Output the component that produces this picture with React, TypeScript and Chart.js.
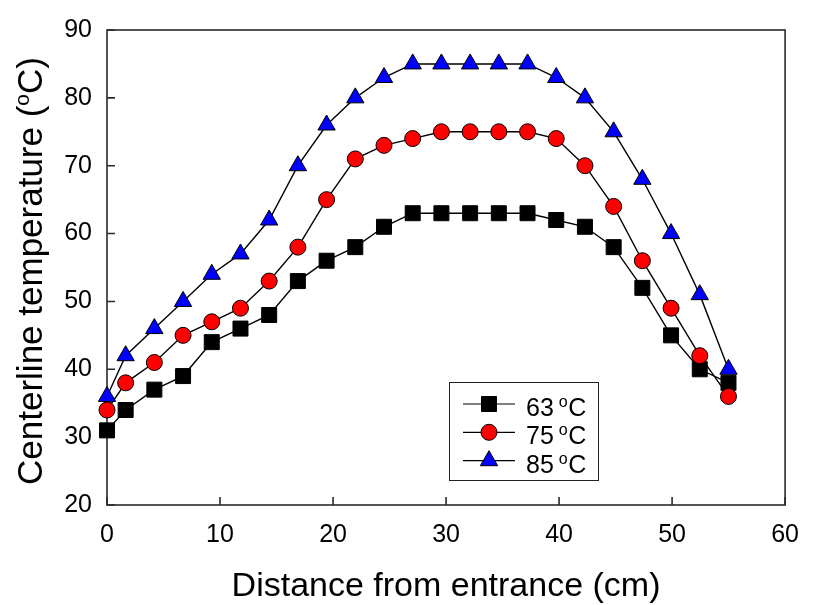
import React, { useEffect, useRef } from "react";
import { Chart, registerables } from "chart.js";

Chart.register(...registerables);

// Distance from entrance (cm)
const distance = [0, 1.65, 4.19, 6.73, 9.27, 11.81, 14.35, 16.89, 19.43, 21.97, 24.51, 27.05, 29.59, 32.13, 34.67, 37.21, 39.75, 42.29, 44.83, 47.37, 49.91, 52.45, 54.99];
// Centerline temperature (oC) for each setpoint
const temp63 = [31, 34, 37, 39, 44, 46, 48, 53, 56, 58, 61, 63, 63, 63, 63, 63, 62, 61, 58, 52, 45, 40, 38];
const temp75 = [34, 38, 41, 45, 47, 49, 53, 58, 65, 71, 73, 74, 75, 75, 75, 75, 74, 70, 64, 56, 49, 42, 36];
const temp85 = [36, 42, 46, 50, 54, 57, 62, 70, 76, 80, 83, 85, 85, 85, 85, 85, 83, 80, 75, 68, 60, 51, 40];
const seriesNames = ["63", "75", "85"];
const xTickValues = [0, 10, 20, 30, 40, 50, 60];
const yTickValues = [20, 30, 40, 50, 60, 70, 80, 90];

const FONT = "'Liberation Sans', Arial, sans-serif";

const markerStyles = [
  { shape: "rect", fill: "#000000" },
  { shape: "circle", fill: "#ff0000" },
  { shape: "triangle", fill: "#0000ff" },
];

function drawMarker(ctx: CanvasRenderingContext2D, shape: string, fill: string, x: number, y: number) {
  ctx.save();
  ctx.fillStyle = fill;
  ctx.strokeStyle = "#000";
  ctx.lineWidth = 1;
  ctx.beginPath();
  if (shape === "rect") {
    ctx.rect(x - 7.5, y - 7.5, 15, 15);
  } else if (shape === "circle") {
    ctx.arc(x, y, 8, 0, Math.PI * 2);
  } else {
    const r = 10;
    ctx.moveTo(x, y - r);
    ctx.lineTo(x + r * 0.866, y + r / 2);
    ctx.lineTo(x - r * 0.866, y + r / 2);
    ctx.closePath();
  }
  ctx.fill();
  ctx.stroke();
  ctx.restore();
}

const decorPlugin = {
  id: "decor",
  beforeDatasetsDraw(chart: any) {
    const { ctx, chartArea } = chart;
    const { left, right, top, bottom } = chartArea;
    const xs = chart.scales.x;
    const ys = chart.scales.y;
    ctx.save();
    ctx.strokeStyle = "#2a2a2a";
    ctx.lineWidth = 1.6;
    ctx.strokeRect(left, top, right - left, bottom - top);
    ctx.beginPath();
    xTickValues.forEach((v) => {
      const px = xs.getPixelForValue(v);
      ctx.moveTo(px, bottom);
      ctx.lineTo(px, bottom - 8);
    });
    yTickValues.forEach((v) => {
      const py = ys.getPixelForValue(v);
      ctx.moveTo(left, py);
      ctx.lineTo(left + 8, py);
    });
    ctx.stroke();
    ctx.restore();
  },
  afterDraw(chart: any) {
    const { ctx, chartArea } = chart;
    const { left, right } = chartArea;
    ctx.save();
    ctx.fillStyle = "#000";
    ctx.textBaseline = "alphabetic";

    // X axis title
    ctx.font = `34px ${FONT}`;
    ctx.textAlign = "center";
    ctx.fillText("Distance from entrance (cm)", (left + right) / 2, 596);

    // Y axis title with superscript
    ctx.textAlign = "left";
    const big = `35px ${FONT}`;
    const small = `21px ${FONT}`;
    const p1 = "Centerline temperature (";
    const p2 = "o";
    const p3 = "C)";
    ctx.font = big;
    const w1 = ctx.measureText(p1).width;
    const w3 = ctx.measureText(p3).width;
    ctx.font = small;
    const w2 = ctx.measureText(p2).width;
    const total = w1 + w2 + w3;
    ctx.translate(42, 271);
    ctx.rotate(-Math.PI / 2);
    let cx = -total / 2;
    ctx.font = big;
    ctx.fillText(p1, cx, 0);
    cx += w1;
    ctx.font = small;
    ctx.fillText(p2, cx, -13);
    cx += w2;
    ctx.font = big;
    ctx.fillText(p3, cx, 0);
    ctx.setTransform(1, 0, 0, 1, 0, 0);
    ctx.restore();

    // Legend
    ctx.save();
    ctx.strokeStyle = "#222";
    ctx.lineWidth = 1;
    ctx.strokeRect(449.5, 382.5, 149, 98);
    const rows = [404, 432.3, 460.7];
    seriesNames.forEach((name, i) => {
      const ry = rows[i];
      ctx.strokeStyle = "#000";
      ctx.lineWidth = 1.2;
      ctx.beginPath();
      ctx.moveTo(463, ry);
      ctx.lineTo(515, ry);
      ctx.stroke();
      drawMarker(ctx, markerStyles[i].shape, markerStyles[i].fill, 489, ry);
      ctx.fillStyle = "#000";
      ctx.textAlign = "left";
      ctx.textBaseline = "alphabetic";
      ctx.font = `25px ${FONT}`;
      ctx.fillText(name, 526, ry + 12);
      const wn = ctx.measureText(name).width;
      ctx.font = `16px ${FONT}`;
      const ox = 526 + wn + 5;
      ctx.fillText("o", ox, ry + 3);
      const wo = ctx.measureText("o").width;
      ctx.font = `25px ${FONT}`;
      ctx.fillText("C", ox + wo + 0.5, ry + 12);
    });
    ctx.restore();
  },
};

export default function App() {
  const canvasRef = useRef<HTMLCanvasElement | null>(null);

  useEffect(() => {
    const canvas = canvasRef.current;
    if (!canvas) return;
    const mk = (vals: number[]) => distance.map((d, i) => ({ x: d, y: vals[i] }));
    const common = {
      borderColor: "#000",
      borderWidth: 1.4,
      pointBorderColor: "#000",
      pointBorderWidth: 1,
      showLine: true,
      tension: 0,
      clip: false as any,
    };
    const chart = new Chart(canvas, {
      type: "scatter",
      data: {
        datasets: [
          {
            ...common,
            label: "63 oC",
            data: mk(temp63),
            pointStyle: "rect",
            pointRadius: 10.6,
            pointBackgroundColor: "#000000",
            order: 3,
          },
          {
            ...common,
            label: "75 oC",
            data: mk(temp75),
            pointStyle: "circle",
            pointRadius: 8,
            pointBackgroundColor: "#ff0000",
            order: 2,
          },
          {
            ...common,
            label: "85 oC",
            data: mk(temp85),
            pointStyle: "triangle",
            pointRadius: 10,
            pointBackgroundColor: "#0000ff",
            order: 1,
          },
        ],
      },
      options: {
        responsive: false,
        animation: false,
        events: [],
        layout: { padding: { top: 23, right: 19, left: 0, bottom: 0 } },
        plugins: {
          legend: { display: false },
          tooltip: { enabled: false },
          title: { display: false },
        },
        scales: {
          x: {
            type: "linear",
            min: 0,
            max: 60,
            border: { display: false },
            grid: { display: false, drawTicks: false },
            afterBuildTicks: (scale: any) => {
              scale.ticks = xTickValues.map((v) => ({ value: v }));
            },
            afterFit: (scale: any) => {
              scale.height = 100;
            },
            ticks: {
              color: "#000",
              font: { family: FONT, size: 25 },
              padding: 15,
              maxRotation: 0,
              autoSkip: false,
            },
          },
          y: {
            type: "linear",
            min: 20,
            max: 90,
            border: { display: false },
            grid: { display: false, drawTicks: false },
            afterBuildTicks: (scale: any) => {
              scale.ticks = yTickValues.map((v) => ({ value: v }));
            },
            afterFit: (scale: any) => {
              scale.width = 107;
            },
            ticks: {
              color: "#000",
              font: { family: FONT, size: 25 },
              padding: 15,
              autoSkip: false,
            },
          },
        },
      },
      plugins: [decorPlugin],
    });
    return () => chart.destroy();
  }, []);

  return (
    <div style={{ position: "fixed", left: 0, top: 0, width: 814, height: 605, background: "#fff" }}>
      <canvas ref={canvasRef} width={814} height={605} style={{ display: "block" }} />
    </div>
  );
}
